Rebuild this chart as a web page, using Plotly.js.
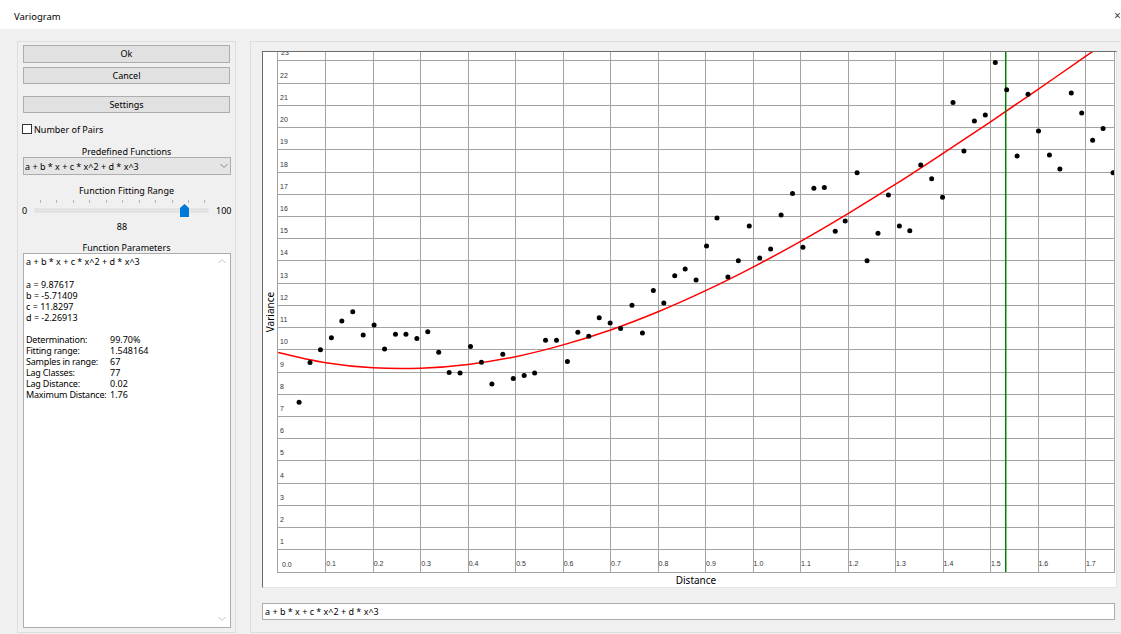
<!DOCTYPE html>
<html>
<head>
<meta charset="utf-8">
<script src="https://cdn.plot.ly/plotly-3.0.1.min.js"></script>
<style>
  html, body { margin:0; padding:0; }
  body { width:1121px; height:634px; background:#f0f0f0; position:relative; overflow:hidden;
         font-family:"Noto Sans", "DejaVu Sans", sans-serif; font-size:9px; color:#000; }
  .abs { position:absolute; }
  .titlebar { left:0; top:0; width:1121px; height:29px; background:#fff; }
  .btn { background:#e1e1e1; border:1px solid #adadad; box-sizing:border-box; text-align:center; }
  .ctr { text-align:center; white-space:nowrap; }
  .panel { border:1px solid #dedede; box-sizing:border-box; }
  .txt { white-space:nowrap; line-height:11px; }
</style>
</head>
<body>
<div class="abs titlebar"></div>
<div class="abs txt" style="left:14px; top:11px; font-size:9.5px;">Variogram</div>
<div class="abs txt" style="left:1114px; top:10px; font-size:12px; color:#444;">×</div>

<!-- left panel -->
<div class="abs panel" style="left:17px; top:41px; width:219px; height:592px;"></div>
<div class="abs btn" style="left:23px; top:45px; width:207px; height:18px; line-height:16px;">Ok</div>
<div class="abs btn" style="left:23px; top:67px; width:207px; height:17px; line-height:15px;">Cancel</div>
<div class="abs btn" style="left:23px; top:96px; width:207px; height:17px; line-height:15px;">Settings</div>
<div class="abs" style="left:22px; top:124px; width:10px; height:10px; border:1px solid #333; background:#fff; box-sizing:border-box;"></div>
<div class="abs txt" style="left:34px; top:124px;">Number of Pairs</div>
<div class="abs txt ctr" style="left:23px; width:207px; top:146px;">Predefined Functions</div>
<div class="abs" style="left:23px; top:157px; width:208px; height:18px; background:#e5e5e5; border:1px solid #adadad; box-sizing:border-box;"></div>
<div class="abs txt" style="left:25px; top:161px;">a + b * x + c * x^2 + d * x^3</div>
<svg class="abs" style="left:220px; top:163px;" width="8" height="6"><polyline points="0.5,1 4,4.5 7.5,1" fill="none" stroke="#888" stroke-width="1"/></svg>
<div class="abs txt ctr" style="left:23px; width:207px; top:185px;">Function Fitting Range</div>
<div class="abs txt" style="left:22px; top:205px;">0</div>
<div class="abs txt" style="left:216px; top:205px;">100</div>
<svg class="abs" style="left:30px; top:198px;" width="185" height="22">
  <g stroke="#b5b5b5" stroke-width="1">
    <line x1="10.5" y1="2" x2="10.5" y2="5"/><line x1="26.5" y1="2" x2="26.5" y2="5"/>
    <line x1="43.5" y1="2" x2="43.5" y2="5"/><line x1="59.5" y1="2" x2="59.5" y2="5"/>
    <line x1="76.5" y1="2" x2="76.5" y2="5"/><line x1="92.5" y1="2" x2="92.5" y2="5"/>
    <line x1="109.5" y1="2" x2="109.5" y2="5"/><line x1="125.5" y1="2" x2="125.5" y2="5"/>
    <line x1="142.5" y1="2" x2="142.5" y2="5"/><line x1="158.5" y1="2" x2="158.5" y2="5"/>
    <line x1="174.5" y1="2" x2="174.5" y2="5"/>
  </g>
  <rect x="5" y="11" width="173" height="3" fill="#e7e7e7" stroke="#d6d6d6" stroke-width="0.8"/>
  <polygon points="150,10 154.5,6 159,10 159,19 150,19" fill="#0078d7"/>
</svg>
<div class="abs txt ctr" style="left:102px; width:40px; top:221px;">88</div>
<div class="abs txt ctr" style="left:23px; width:207px; top:242px;">Function Parameters</div>
<div class="abs" style="left:23px; top:253px; width:208px; height:375px; background:#fff; border:1px solid #adadad; box-sizing:border-box;"></div>
<svg class="abs" style="left:218px; top:258px;" width="8" height="6"><polyline points="0.5,5 4,1.5 7.5,5" fill="none" stroke="#c2c2c2" stroke-width="1"/></svg>
<svg class="abs" style="left:218px; top:616px;" width="8" height="6"><polyline points="0.5,1 4,4.5 7.5,1" fill="none" stroke="#c2c2c2" stroke-width="1"/></svg>
<div class="abs txt" style="left:26px; top:256px;">a + b * x + c * x^2 + d * x^3</div>
<div class="abs txt" style="left:26px; top:279px;">a = 9.87617<br>b = -5.71409<br>c = 11.8297<br>d = -2.26913</div>
<div class="abs txt" style="left:26px; top:334px; letter-spacing:-0.2px;">Determination:<br>Fitting range:<br>Samples in range:<br>Lag Classes:<br>Lag Distance:<br>Maximum Distance:</div>
<div class="abs txt" style="left:110px; top:334px;">99.70%<br>1.548164<br>67<br>77<br>0.02<br>1.76</div>

<!-- right panel -->
<div class="abs panel" style="left:250px; top:41px; width:872px; height:592px;"></div>
<div class="abs" style="left:262px; top:51px; width:855px; height:537px; background:#fff; border-left:1px solid #6b6b6b; border-top:1px solid #6b6b6b; border-right:1px solid #e3e3e3; border-bottom:1px solid #e3e3e3; box-sizing:border-box;"></div>
<div id="plot" class="abs" style="left:263px; top:52px; width:853px; height:535px;"></div>
<div class="abs" style="left:262px; top:603px; width:853px; height:17px; background:#fff; border:1px solid #adadad; box-sizing:border-box;"></div>
<div class="abs txt" style="left:265px; top:606px;">a + b * x + c * x^2 + d * x^3</div>

<script>
// ---- data ----
const distance = [0.044,0.067,0.089,0.112,0.134,0.157,0.179,0.202,0.224,0.247,
  0.269,0.292,0.315,0.338,0.360,0.383,0.405,0.428,0.450,0.473,
  0.495,0.518,0.540,0.563,0.586,0.609,0.631,0.654,0.676,0.699,
  0.721,0.745,0.767,0.790,0.812,0.835,0.857,0.880,0.902,0.924,
  0.947,0.969,0.992,1.014,1.037,1.059,1.083,1.105,1.128,1.150,
  1.173,1.194,1.219,1.240,1.263,1.285,1.308,1.330,1.353,1.376,
  1.399,1.421,1.444,1.466,1.489,1.510,1.534,1.556,1.579,1.601,
  1.624,1.646,1.670,1.692,1.715,1.737,1.758];
const variance = [7.64,9.43,10.00,10.54,11.30,11.71,10.67,11.11,10.04,10.70,
  10.70,10.51,10.81,9.89,8.98,8.95,10.15,9.44,8.46,9.80,
  8.71,8.84,8.95,10.43,10.43,9.47,10.79,10.61,11.44,11.20,
  10.96,12.00,10.76,12.67,12.11,13.33,13.63,13.14,14.67,15.93,
  13.27,14.01,15.57,14.13,14.53,16.07,17.03,14.61,17.27,17.30,
  15.33,15.80,17.97,14.01,15.24,16.97,15.57,15.36,18.31,17.70,
  16.86,21.13,18.94,20.30,20.57,22.93,21.70,18.72,21.50,19.84,
  18.77,18.13,21.56,20.66,19.43,19.96,17.97];
const curveX = [0,0.1,0.2,0.3,0.4,0.5,0.6,0.7,0.8,0.9,1.0,1.1,1.2,1.3,1.4,1.5,1.6,1.7,1.76];
const curveY = [9.88,9.42,9.19,9.17,9.34,9.69,10.22,10.89,11.71,12.66,13.72,14.88,16.13,17.45,18.84,20.26,21.72,23.20,24.09];
const rangeLineX = [1.532, 1.532];
const rangeLineY = [0, 23.4];
const xTickVals = [0,0.1,0.2,0.3,0.4,0.5,0.6,0.7,0.8,0.9,1.0,1.1,1.2,1.3,1.4,1.5,1.6,1.7];
const xTickText = ['0.0','0.1','0.2','0.3','0.4','0.5','0.6','0.7','0.8','0.9','1.0','1.1','1.2','1.3','1.4','1.5','1.6','1.7'];
const yTickVals = [1,2,3,4,5,6,7,8,9,10,11,12,13,14,15,16,17,18,19,20,21,22,23];
const xRange = [-0.0004, 1.76];
const yRange = [0, 23.4];

const traces = [
  { x: curveX, y: curveY, type: 'scatter', mode: 'lines', line: {color: '#ff0000', width: 1.5, shape: 'spline'}, hoverinfo: 'skip' },
  { x: rangeLineX, y: rangeLineY, type: 'scatter', mode: 'lines', line: {color: '#008000', width: 1.5}, hoverinfo: 'skip' },
  { x: distance, y: variance, type: 'scatter', mode: 'markers', marker: {color: '#000', size: 5}, cliponaxis: true }
];

const tickFont = {family: 'Liberation Sans, Arial, sans-serif', size: 7, color: '#333'};
// edge tick labels that plotly's inside-label logic hides are drawn as annotations
const lastY = yTickVals[yTickVals.length - 1];
const edgeLabels = [
  { x: xTickVals[0], y: yRange[0], xref: 'x', yref: 'y', text: xTickText[0],
    showarrow: false, xanchor: 'left', yanchor: 'bottom', xshift: 2, yshift: 2, font: tickFont },
  { x: xRange[0], y: lastY, xref: 'x', yref: 'y', text: String(lastY),
    showarrow: false, xanchor: 'left', yanchor: 'bottom', xshift: 1, yshift: 3, font: tickFont }
];
const layout = {
  width: 853, height: 535,
  margin: {l: 15, r: 2, t: 0, b: 15, pad: 0},
  paper_bgcolor: '#ffffff', plot_bgcolor: '#ffffff',
  showlegend: false,
  annotations: edgeLabels,
  xaxis: {
    range: xRange, tickvals: xTickVals, ticktext: xTickText,
    ticklabelposition: 'inside right', ticks: '', tickfont: tickFont,
    showgrid: true, gridcolor: '#a3a3a3', gridwidth: 1,
    showline: true, linecolor: '#a3a3a3', linewidth: 1, mirror: true,
    zeroline: false, fixedrange: true,
    title: {text: 'Distance', font: {family: 'Noto Sans, sans-serif', size: 10, color: '#000'}, standoff: 11}
  },
  yaxis: {
    range: yRange, tickvals: yTickVals,
    ticklabelposition: 'inside top', ticklabelshift: -3, ticks: '', tickfont: tickFont,
    showgrid: true, gridcolor: '#a3a3a3', gridwidth: 1,
    showline: true, linecolor: '#a3a3a3', linewidth: 1, mirror: true,
    zeroline: false, fixedrange: true,
    title: {text: 'Variance', font: {family: 'Noto Sans, sans-serif', size: 10, color: '#000'}, standoff: 8}
  }
};
Plotly.newPlot('plot', traces, layout, {staticPlot: true, displayModeBar: false});
</script>
</body>
</html>
